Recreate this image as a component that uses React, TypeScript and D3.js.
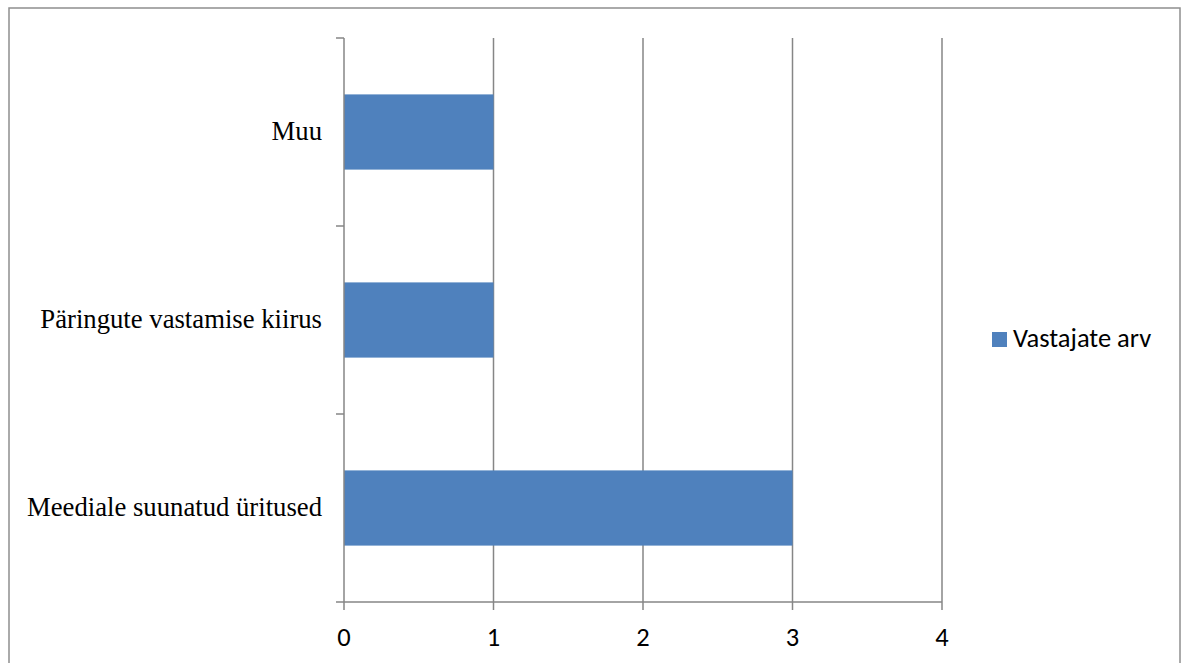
import React from 'react';
import * as d3 from 'd3';

// categories listed bottom to top as in the source chart
const categories = ['Meediale suunatud üritused', 'Päringute vastamise kiirus', 'Muu'];
const values = [3, 1, 1];
const xTicks = [0, 1, 2, 3, 4];
const seriesName = 'Vastajate arv';

const W = 1187;
const H = 663;
const margin = { top: 38, right: 245, bottom: 61, left: 344 };
const BAR_COLOR = '#4F81BD';
const AXIS_COLOR = '#868686';
const SANS = 'Carlito, Calibri, "Open Sans", sans-serif';
const SERIF = '"Liberation Serif", "Times New Roman", serif';

const App: React.FC = () => {
  const innerW = W - margin.left - margin.right;
  const innerH = H - margin.top - margin.bottom;

  const xScale = d3.scaleLinear().domain([0, 4]).range([0, innerW]);
  // top of the plot shows the last category
  const yScale = d3.scaleBand<string>()
    .domain([...categories].reverse())
    .range([0, innerH])
    .paddingInner(0.6)
    .paddingOuter(0.3);
  const boundaries = d3.range(categories.length + 1).map(i => i * (innerH / categories.length));

  return (
    <div style={{ position: 'fixed', left: 0, top: 0 }}>
      <svg width={W} height={H} style={{ display: 'block', background: '#fff' }}>
        {/* chart border */}
        <rect x={9} y={8} width={1171} height={H + 10} fill="none" stroke="#8f8f8f" strokeWidth={1.5} />

        <g transform={`translate(${margin.left},${margin.top})`}>
          {/* vertical gridlines */}
          {xTicks.slice(1).map(t => (
            <line key={`g${t}`} x1={xScale(t)} x2={xScale(t)} y1={0} y2={innerH} stroke={AXIS_COLOR} strokeWidth={1.5} />
          ))}

          {/* bars */}
          {categories.map((c, i) => (
            <rect
              key={c}
              x={xScale(0)}
              y={yScale(c)!}
              width={xScale(values[i]) - xScale(0)}
              height={yScale.bandwidth()}
              fill={BAR_COLOR}
            />
          ))}

          {/* y axis */}
          <line x1={0} x2={0} y1={0} y2={innerH} stroke={AXIS_COLOR} strokeWidth={1.5} />
          {boundaries.map((b, i) => (
            <line key={`yt${i}`} x1={-8} x2={0} y1={b} y2={b} stroke={AXIS_COLOR} strokeWidth={1.5} />
          ))}
          {categories.map(c => (
            <text
              key={`l${c}`}
              x={-22}
              y={yScale(c)! + yScale.bandwidth() / 2 + 8}
              textAnchor="end"
              fontFamily={SERIF}
              fontSize={26.7}
              fill="#000"
            >
              {c}
            </text>
          ))}

          {/* x axis */}
          <line x1={0} x2={innerW} y1={innerH} y2={innerH} stroke={AXIS_COLOR} strokeWidth={1.5} />
          {xTicks.map(t => (
            <g key={`xt${t}`} transform={`translate(${xScale(t)},${innerH})`}>
              <line y1={0} y2={8} stroke={AXIS_COLOR} strokeWidth={1.5} />
              <text y={44} textAnchor="middle" fontFamily={SANS} fontSize={26.5} fill="#000">
                {t}
              </text>
            </g>
          ))}
        </g>

        {/* legend */}
        <g transform="translate(992,332)">
          <rect width={15} height={15} fill={BAR_COLOR} />
          <text x={21} y={15} fontFamily={SANS} fontSize={26.5} fill="#000">
            {seriesName}
          </text>
        </g>
      </svg>
    </div>
  );
};

export default App;
